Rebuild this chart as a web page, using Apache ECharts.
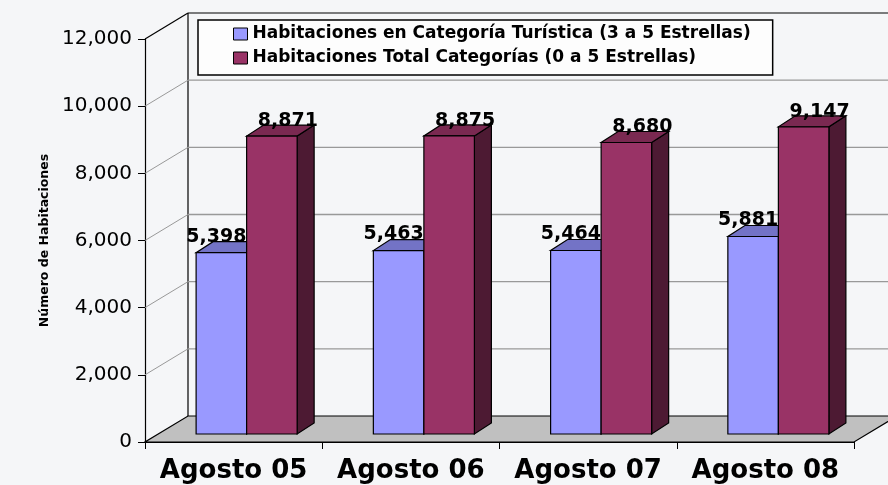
<!DOCTYPE html>
<html>
<head>
<meta charset="utf-8">
<title>Habitaciones</title>
<script src="https://cdn.jsdelivr.net/npm/echarts@6.0.0/dist/echarts.min.js"></script>
<style>
  html, body { margin: 0; padding: 0; }
  #chart { width: 888px; height: 485px; }
</style>
</head>
<body>
<div id="chart"></div>
<script>
var categories = ['Agosto 05', 'Agosto 06', 'Agosto 07', 'Agosto 08'];
var turistica = [5398, 5463, 5464, 5881];
var total = [8871, 8875, 8680, 9147];
var yTicks = [0, 2000, 4000, 6000, 8000, 10000, 12000];
var seriesNames = [
    'Habitaciones en Categoría Turística (3 a 5 Estrellas)',
    'Habitaciones Total Categorías (0 a 5 Estrellas)'
];

// fake 3d: depth of the box, where the bars stand, and bar thickness
var DEPTH = [43, -26];
var BAR_SHIFT = [13, -8];
var SIDE = [17, -11];
var FONT = 'DejaVu Sans';

function wallsItem(params, api) {
    var cs = params.coordSys;
    var v = api.value(1);
    var y = api.coord([0, v])[1];
    var x0 = cs.x, x1 = cs.x + cs.width;
    var dx = DEPTH[0], dy = DEPTH[1];
    var items = [];
    if (v === 0) {
        // floor
        items.push({
            type: 'polygon',
            shape: {points: [[x0, y], [x1, y], [x1 + dx, y + dy], [x0 + dx, y + dy]]},
            style: {fill: '#c0c0c0', stroke: '#000', lineWidth: 1.2}
        });
        // back wall left edge
        items.push({
            type: 'line',
            shape: {x1: x0 + dx, y1: y + dy, x2: x0 + dx, y2: cs.y + dy},
            style: {stroke: '#000', lineWidth: 1.2}
        });
        return {type: 'group', children: items};
    }
    var top = v === yTicks[yTicks.length - 1];
    var col = top ? '#000' : '#999';
    items.push({
        type: 'line',
        shape: {x1: x0, y1: y, x2: x0 + dx, y2: y + dy},
        style: {stroke: col, lineWidth: top ? 1.2 : 1}
    });
    items.push({
        type: 'line',
        shape: {x1: x0 + dx, y1: y + dy, x2: x1 + dx, y2: y + dy},
        style: {stroke: col, lineWidth: top ? 1.2 : 1.3}
    });
    return {type: 'group', children: items};
}

function barItem(slot, colors, labelDx, labelDy) {
    return function (params, api) {
        var idx = api.value(0), v = api.value(1);
        var top = api.coord([idx, v]);
        var base = api.coord([idx, 0]);
        var band = api.size([1, 0])[0];
        var w = band * 0.285;
        var x0 = top[0] + BAR_SHIFT[0] - w + slot * w;
        var yb = base[1] + BAR_SHIFT[1];
        var yt = top[1] + BAR_SHIFT[1];
        var sx = SIDE[0], sy = SIDE[1];
        var line = {stroke: '#000', lineWidth: 1.2};
        return {
            type: 'group',
            children: [
                {
                    type: 'polygon',
                    shape: {points: [[x0 + w, yt], [x0 + w + sx, yt + sy], [x0 + w + sx, yb + sy], [x0 + w, yb]]},
                    style: Object.assign({fill: colors[2]}, line)
                },
                {
                    type: 'polygon',
                    shape: {points: [[x0, yt], [x0 + w, yt], [x0 + w + sx, yt + sy], [x0 + sx, yt + sy]]},
                    style: Object.assign({fill: colors[1]}, line)
                },
                {
                    type: 'rect',
                    shape: {x: x0, y: yt, width: w, height: yb - yt},
                    style: Object.assign({fill: colors[0]}, line)
                },
                {
                    type: 'text',
                    z2: 50,
                    style: {
                        x: x0 + w / 2 + labelDx,
                        y: yt + labelDy,
                        text: echarts.format.addCommas(v),
                        fill: '#000',
                        fontFamily: FONT,
                        fontWeight: 'bold',
                        fontSize: 19,
                        align: 'center',
                        verticalAlign: 'middle'
                    }
                }
            ]
        };
    };
}

var myChart = echarts.init(document.getElementById('chart'));
var option = {
    backgroundColor: '#f5f6f8',
    animation: false,
    grid: {left: 145, right: 34, top: 39, bottom: 43},
    legend: {
        orient: 'vertical',
        left: 198,
        top: 20,
        padding: [4, 22, 7, 35],
        itemGap: 4,
        itemWidth: 14,
        itemHeight: 12,
        backgroundColor: '#fdfdfd',
        borderColor: '#000',
        borderWidth: 1.5,
        borderRadius: 0,
        icon: 'rect',
        itemStyle: {borderColor: '#000', borderWidth: 1},
        textStyle: {fontFamily: FONT, fontWeight: 'bold', fontSize: 17, color: '#000', lineHeight: 20},
        data: seriesNames
    },
    xAxis: {
        type: 'category',
        data: categories,
        axisLine: {lineStyle: {color: '#000', width: 1.2}},
        axisTick: {show: true, length: 7, lineStyle: {color: '#000'}},
        axisLabel: {
            interval: 0, hideOverlap: false,
            fontFamily: FONT, fontWeight: 'bold', fontSize: 26, color: '#000', margin: 16
        },
        splitLine: {show: false}
    },
    yAxis: {
        type: 'value',
        min: 0,
        max: 12000,
        interval: 2000,
        name: 'Número de Habitaciones',
        nameLocation: 'middle',
        nameGap: 44,
        nameTextStyle: {fontFamily: FONT, fontWeight: 'bold', fontSize: 12.5, color: '#000'},
        axisLine: {show: true, lineStyle: {color: '#000', width: 1.2}},
        axisTick: {show: true, length: 7, lineStyle: {color: '#000'}},
        axisLabel: {
            fontFamily: FONT, fontSize: 20, color: '#000', margin: 13,
            formatter: function (v) { return echarts.format.addCommas(v); }
        },
        splitLine: {show: false}
    },
    series: [
        {
            type: 'custom',
            name: 'walls',
            z: 1,
            silent: true,
            renderItem: wallsItem,
            data: yTicks.map(function (v) { return [0, v]; })
        },
        {
            type: 'custom',
            name: seriesNames[0],
            z: 2,
            itemStyle: {color: '#9999ff'},
            renderItem: barItem(0, ['#9999ff', '#7373c6', '#5c5c99'], -5, -16),
            data: turistica.map(function (v, i) { return [i, v]; })
        },
        {
            type: 'custom',
            name: seriesNames[1],
            z: 2,
            itemStyle: {color: '#993366'},
            renderItem: barItem(1, ['#993366', '#7a2951', '#4d1a33'], 16, -15),
            data: total.map(function (v, i) { return [i, v]; })
        }
    ]
};
myChart.setOption(option);
</script>
</body>
</html>
